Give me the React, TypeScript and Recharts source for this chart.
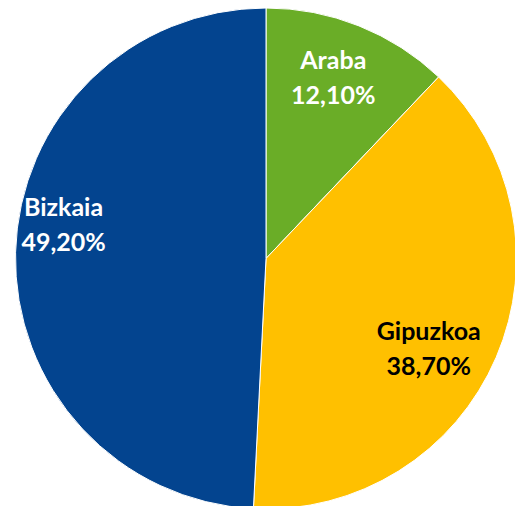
import React from "react";
import { PieChart, Pie, Cell } from "recharts";

const territories = ["Araba", "Gipuzkoa", "Bizkaia"];
const shares = [12.1, 38.7, 49.2];
const shareLabels = ["12,10%", "38,70%", "49,20%"];

const colors = ["#6AAD27", "#FFC000", "#03448F"];
const labelColors = ["#FFFFFF", "#000000", "#FFFFFF"];
// label placement tweaks: [radius factor, angle offset in degrees]
const labelPlacement: [number, number][] = [
  [0.775, 1.5],
  [0.74, -5.4],
  [0.82, -8.3],
];

const data = territories.map((name, i) => ({ name, value: shares[i], label: shareLabels[i] }));

const RAD = Math.PI / 180;

const renderLabel = (props: any) => {
  const { cx, cy, midAngle, outerRadius, index } = props;
  const [rf, off] = labelPlacement[index];
  const a = (midAngle + off) * RAD;
  const x = cx + outerRadius * rf * Math.cos(a);
  const y = cy - outerRadius * rf * Math.sin(a);
  return (
    <text
      x={x}
      y={y}
      textAnchor="middle"
      fill={labelColors[index]}
      fontFamily="Lato, 'Open Sans', sans-serif"
      fontWeight={700}
      fontSize={25}
    >
      <tspan x={x} y={y - 17.5} dominantBaseline="central">{data[index].name}</tspan>
      <tspan x={x} y={y + 17.5} dominantBaseline="central">{data[index].label}</tspan>
    </text>
  );
};

export default function App() {
  return (
    <div style={{ position: "absolute", left: 0, top: 0, width: 515, height: 506, background: "#fff", overflow: "hidden" }}>
      <PieChart width={515} height={506} margin={{ top: 0, right: 0, bottom: 0, left: 0 }}>
        <Pie
          data={data}
          dataKey="value"
          nameKey="name"
          cx={266}
          cy={258.5}
          outerRadius={250.5}
          startAngle={90}
          endAngle={-270}
          stroke="#ffffff"
          strokeWidth={1}
          label={renderLabel}
          labelLine={false}
          isAnimationActive={false}
        >
          {data.map((d, i) => (
            <Cell key={d.name} fill={colors[i]} />
          ))}
        </Pie>
      </PieChart>
    </div>
  );
}
